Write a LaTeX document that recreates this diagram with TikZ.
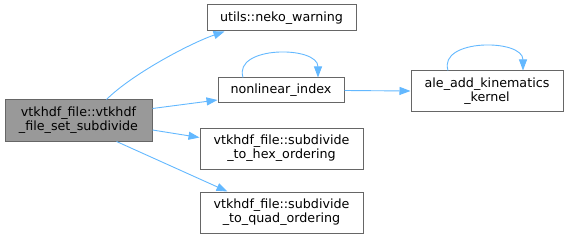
\documentclass[tikz,border=0pt]{standalone}
\usepackage{fontspec}
\setmainfont{DejaVu Sans}
\usetikzlibrary{arrows.meta,calc}
\definecolor{edgeblue}{HTML}{63B8FF}
\definecolor{boxline}{HTML}{666666}
\definecolor{rootfill}{HTML}{999999}
\begin{document}
\begin{tikzpicture}[x=1pt,y=-1pt,
  fn/.style={draw=boxline,line width=1pt,fill=white,inner sep=2pt,align=center,font=\fontsize{12.7}{14}\selectfont},
  root/.style={fn,fill=rootfill},
  edge/.style={draw=edgeblue,line width=0.9pt,-{Triangle[length=11pt,width=8pt]}}]
\useasboundingbox (0,0) rectangle (568,238);
\node[root,minimum width=147pt,minimum height=41pt] (setsub) at (78.5,120.5) {vtkhdf\_file::vtkhdf\\\_file\_set\_subdivide};
\node[fn,minimum width=149pt,minimum height=26pt] (warn) at (281.5,18) {utils::neko\_warning};
\node[fn,minimum width=126pt,minimum height=25pt] (nlidx) at (281,90.5) {nonlinear\_index};
\node[fn,minimum width=163pt,minimum height=41pt] (hexord) at (281.5,148.5) {vtkhdf\_file::subdivide\\\_to\_hex\_ordering};
\node[fn,minimum width=163pt,minimum height=41pt] (quadord) at (281.5,212.5) {vtkhdf\_file::subdivide\\\_to\_quad\_ordering};
\node[fn,minimum width=152pt,minimum height=40pt] (alekin) at (487,91) {ale\_add\_kinematics\\\_kernel};
% calls
\draw[edge] ([xshift=28pt]setsub.north) .. controls +(25,-25) and +(-35,12) .. ([xshift=-57pt]warn.south);
\draw[edge] ([yshift=12pt]setsub.east) -- ([yshift=-9.5pt]nlidx.west);
\draw[edge] ([yshift=-9.5pt]setsub.east) -- ([yshift=11pt]hexord.west);
\draw[edge] ([xshift=38pt]setsub.south) -- ([xshift=-54pt]quadord.north);
\draw[edge] (nlidx.east) -- (alekin.west);
% recursion
\draw[edge] ([xshift=-38pt]nlidx.north) .. controls +(-10,-32) and +(0,-32) .. ([xshift=37pt]nlidx.north);
\draw[edge] ([xshift=-39pt]alekin.north) .. controls +(-10,-32) and +(0,-32) .. ([xshift=36pt]alekin.north);
\end{tikzpicture}
\end{document}
